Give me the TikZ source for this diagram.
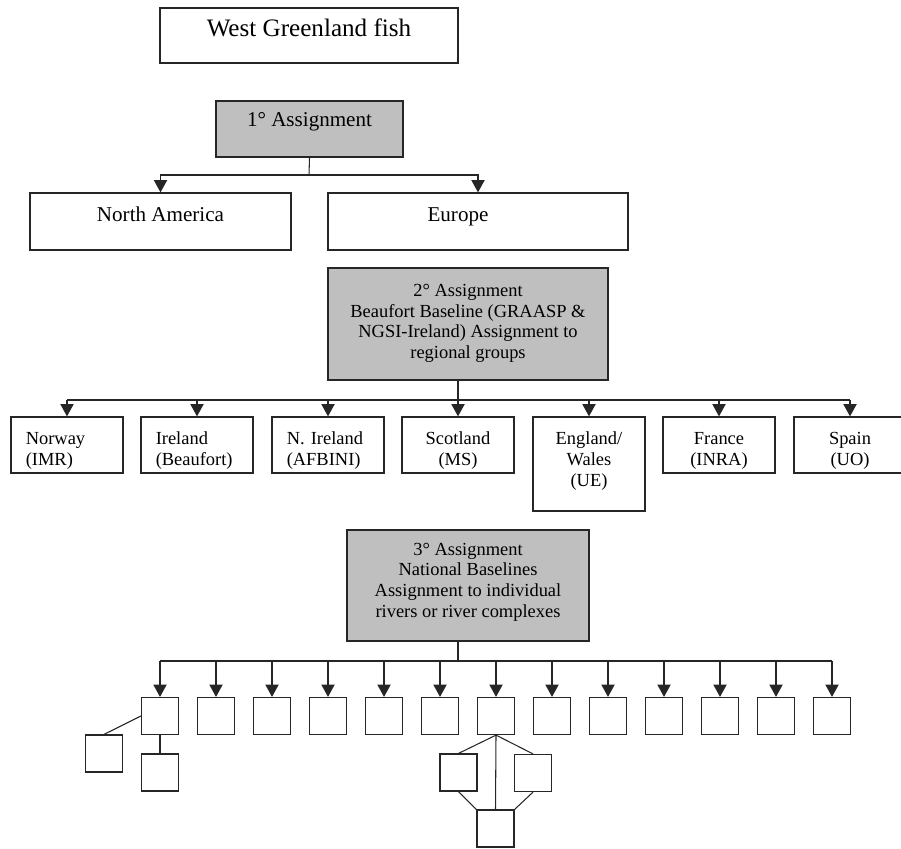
\documentclass[tikz,border=0pt]{standalone}
\usepackage{fontspec}
\setmainfont{Liberation Serif}
\usetikzlibrary{arrows.meta,positioning}

\tikzset{
  box/.style={draw=black!85, line width=0.7pt, inner sep=2pt, align=center,
    font=\fontsize{10.5}{11.9}\selectfont},
  greybox/.style={box, fill=black!25},
  country/.style={box, minimum width=2.24cm, minimum height=1.12cm},
  leftcountry/.style={country, align=left, text width=1.65cm, drop=13.6pt},
  lift/.style={text depth=#1},
  drop/.style={text height=#1},
  leaf/.style={draw=black!85, line width=0.7pt, minimum size=0.74cm, inner sep=0pt},
  arr/.style={draw=black!85, line width=0.7pt, -{Triangle[width=7.5pt,length=7pt]}},
  link/.style={draw=black!85, line width=0.6pt}
}

\begin{document}
\begin{tikzpicture}[x=0.02cm, y=-0.02cm]
\useasboundingbox (0,0) rectangle (901,848);

% top of the tree
\node[box, minimum width=5.96cm, minimum height=1.1cm, lift=9pt,
  font=\fontsize{14.3}{16}\selectfont] (fish) at (309,35.5) {West Greenland fish};
\node[greybox, minimum width=3.74cm, minimum height=1.12cm, lift=11pt,
  font=\fontsize{12}{14}\selectfont] (first) at (309.5,129) {1° Assignment};
\node[box, minimum width=5.22cm, minimum height=1.14cm, lift=8pt,
  font=\fontsize{12}{14}\selectfont] (namer) at (160.5,221.5) {North America};
\node[box, minimum width=6cm, minimum height=1.14cm, lift=8pt,
  font=\fontsize{12}{14}\selectfont] (europe) at (478,221.5) {Europe\hspace{0.8cm}};

\coordinate (bar1) at (309,175);
\draw[link] (first.south) -- (bar1);
\draw[arr] (bar1) -| (namer.north);
\draw[arr] (bar1) -| (europe.north);

% 2nd assignment
\node[greybox, minimum width=5.6cm, minimum height=2.24cm, lift=3pt] (second) at (468,324)
  {2° Assignment\\Beaufort Baseline (GRAASP \&\\NGSI-Ireland) Assignment to\\regional groups};

\node[leftcountry] (norway) at (67,445) {Norway\\(IMR)};
\node[leftcountry] (ireland) at (197,445) {Ireland\\(Beaufort)};
\node[leftcountry] (nireland) at (328,445) {N. Ireland\\(AFBINI)};
\node[country, drop=25pt] (scotland) at (458,445) {Scotland\\(MS)};
\node[country, minimum height=1.88cm, lift=6pt] (england) at (589,464) {England/\\Wales\\(UE)};
\node[country, drop=25pt] (france) at (719,445) {France\\(INRA)};
\node[country, drop=25pt] (spain) at (850,445) {Spain\\(UO)};

\coordinate (bar2) at (458,400);
\draw[link] (second.south -| bar2) -- (bar2);
\draw[link] (norway.north |- bar2) -- (spain.north |- bar2);
\foreach \c in {norway,ireland,nireland,scotland,england,france,spain}
  \draw[arr] (\c.north |- bar2) -- (\c.north);

% 3rd assignment
\node[greybox, minimum width=4.84cm, minimum height=2.22cm, lift=6pt] (third) at (468,585.5)
  {3° Assignment\\National Baselines\\Assignment to individual\\rivers or river complexes};

\foreach \i in {1,...,13}
  \node[leaf] (l\i) at ({160+56*(\i-1)},716) {};

\coordinate (bar3) at (458,661);
\draw[link] (third.south -| bar3) -- (bar3);
\draw[link] (l1.north |- bar3) -- (l13.north |- bar3);
\foreach \i in {1,...,13}
  \draw[arr] (l\i.north |- bar3) -- (l\i.north);

% rivers below
\node[leaf] (l1a) at (104,753.5) {};
\node[leaf] (l1b) at (160,772.5) {};
\draw[link] (l1.west) -- (l1a.north);
\draw[link] (l1.south) -- (l1b.north);

\node[leaf] (l7a) at (458.5,772.5) {};
\node[leaf] (l7b) at (533,773) {};
\node[leaf] (l7c) at (495.5,828.5) {};
\draw[link] (l7.south) -- (l7a.north);
\draw[link] (l7.south) -- (l7b.north);
\draw[link] (l7.south) -- (l7c.north);
\draw[link] (l7a.south) -- (l7c.north west);
\draw[link] (l7b.south) -- (l7c.north east);
\end{tikzpicture}
\end{document}
